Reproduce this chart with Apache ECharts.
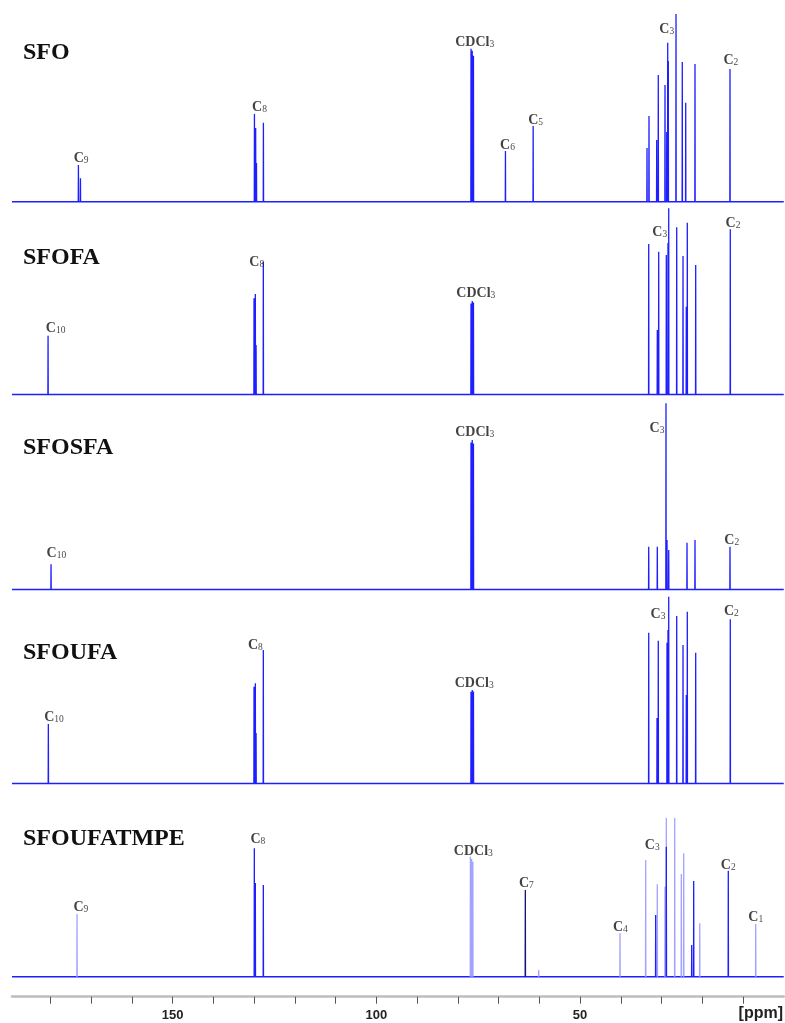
<!DOCTYPE html>
<html>
<head>
<meta charset="utf-8">
<script src="https://cdn.jsdelivr.net/npm/echarts@6/dist/echarts.min.js"></script>
<style>html,body{margin:0;padding:0;background:#fff}#main{width:785px;height:1023px}</style>
</head>
<body>
<div id="main"></div>
<script>
// ---- data (ppm, intensity a.u.) ----
const sampleNames = ['SFO', 'SFOFA', 'SFOSFA', 'SFOUFA', 'SFOUFATMPE'];
const ppmMin = 0, ppmMax = 189.4;
const majorTicks = [50, 100, 150];
const minorTicks = [10, 20, 30, 40, 50, 60, 70, 80, 90, 100, 110, 120, 130, 140, 150, 160, 170, 180];

const sfoPeaks = [[173.1,36.7],[172.6,23.4],[129.9,87.7],[129.6,73.7],[129.4,38.7],[127.7,79],
  [76.75,153],[76.45,151],[76.15,146],[68.3,50.7],[61.5,75.7],
  [33.56,53.7],[33.07,85.7],[31.18,61.7],[30.79,126.7],[29.14,116.7],[28.72,69.7],[28.48,159],[28.33,140.7],
  [26.44,187.7],[24.9,139.7],[24.06,99],[21.78,137.7],[13.19,132.7]];
const sfofaPeaks = [[180.55,58.8],[130.0,96.2],[129.68,100.5],[129.5,49.5],[127.72,132.8],
  [76.75,91],[76.45,93.5],[76.15,92],
  [33.14,150.5],[31.03,64.5],[30.69,142.8],[28.82,139.5],[28.41,151.5],[28.23,186.2],[26.27,167.2],
  [24.72,138.5],[23.92,87.8],[23.67,171.8],[21.61,129.5],[13.12,165.2]];
const sfosfaPeaks = [[179.82,25.2],[76.75,147],[76.45,149.5],[76.15,146],
  [33.14,42.8],[31.03,42.8],[28.9,186.2],[28.65,49.5],[28.23,39.5],[23.74,46.8],[21.78,49.5],[13.19,42.8]];
const sfoufaPeaks = [[180.48,59.5],[130.0,96.8],[129.68,100.2],[129.5,50.5],[127.72,133.5],
  [76.75,91.8],[76.45,93.5],[76.15,92],
  [33.14,150.8],[31.1,65.5],[30.79,142.8],[28.65,140.8],[28.41,153.5],[28.23,186.8],[26.27,167.5],
  [24.72,138.5],[23.92,88.5],[23.67,171.8],[21.61,130.8],[13.12,164.2]];
const tmpeLightPeaks = [[173.44,62.7],[76.9,120],[76.6,117.7],[76.3,115],[60.14,6.7],[40.18,43.4],
  [33.88,116.7],[31.03,92.4],[29.14,90],[28.82,158.7],[26.76,158.7],[25.14,102.7],[24.55,123.4],
  [20.62,53.4],[6.88,52.7]];
const tmpeBluePeaks = [[129.93,128.4],[129.68,93.7],[127.72,91.7],[31.43,61.7],[28.82,130],
  [22.59,31.7],[22.1,95.7],[13.61,106]];
const tmpeDarkPeaks = [[63.42,86.7]];

// labels: [main, subscript, ppm, intensity]
const sfoLabels = [['C','9',172.45,35.7],['C','8',128.65,86.7],['CDCl','3',75.84,151.4],['C','6',67.8,48.7],
  ['C','5',60.9,73.7],['C','3',28.72,164.4],['C','2',12.99,133.7]];
const sfofaLabels = [['C','10',178.7,58.8],['C','8',129.34,124.8],['CDCl','3',75.57,93.8],['C','3',30.44,154.2],['C','2',12.45,163.2]];
const sfosfaLabels = [['C','10',178.5,28.2],['CDCl','3',75.84,149.8],['C','3',31.1,153.2],['C','2',12.77,41.5]];
const sfoufaLabels = [['C','10',179.1,58.2],['C','8',129.68,130.5],['CDCl','3',75.96,92.2],['C','3',30.86,161.5],['C','2',12.87,164.8]];
const tmpeLabels = [['C','9',172.5,62],['C','8',129.07,129.4],['CDCl','3',76.18,118],['C','7',63.18,85.4],
  ['C','4',40.11,42],['C','3',32.28,123.7],['C','2',13.61,103.7],['C','1',6.86,51.4]];

// ---- layout ----
const baselines = [201.7, 394.5, 589.5, 783.5, 976.7];
const titleTops = [41.2, 245.5, 436.2, 641.2, 826.8];
const panelH = 190;
const BLUE = '#1e1eff', LIGHT = '#a3a3ff', DARK = '#14147a';

function peakLine(peaks) {
  const sorted = peaks.slice().sort((a, b) => b[0] - a[0]);
  const d = [];
  sorted.forEach(([p, h]) => { d.push([p + 0.04, 0], [p, h], [p - 0.04, 0], [p - 0.05, '-']); });
  return d;
}

const panels = [
  { peaks: [[sfoPeaks, BLUE]], labels: sfoLabels },
  { peaks: [[sfofaPeaks, BLUE]], labels: sfofaLabels },
  { peaks: [[sfosfaPeaks, BLUE]], labels: sfosfaLabels },
  { peaks: [[sfoufaPeaks, BLUE]], labels: sfoufaLabels },
  { peaks: [[tmpeLightPeaks, LIGHT], [tmpeBluePeaks, BLUE], [tmpeDarkPeaks, DARK]], labels: tmpeLabels }
];

const grid = [], xAxis = [], yAxis = [], series = [], title = [];
panels.forEach((pn, i) => {
  grid.push({ left: 12, right: 1.25, top: baselines[i] - panelH, height: panelH });
  xAxis.push({ gridIndex: i, type: 'value', min: ppmMin, max: ppmMax, inverse: true, show: false, splitLine: { show: false } });
  yAxis.push({ gridIndex: i, type: 'value', min: 0, max: panelH, show: false, splitLine: { show: false } });
  title.push({ text: sampleNames[i], left: 23, top: titleTops[i], padding: 0,
    textStyle: { fontFamily: 'Liberation Serif', fontWeight: 'bold', fontSize: 24, color: '#111' } });
  series.push({ type: 'line', xAxisIndex: i, yAxisIndex: i, data: [[ppmMax, 0], [ppmMin, 0]],
    symbol: 'none', lineStyle: { color: BLUE, width: 1.6 }, silent: true, clip: false, z: 2 });
  pn.peaks.forEach(([pk, col]) => {
    series.push({ type: 'line', xAxisIndex: i, yAxisIndex: i, data: peakLine(pk), connectNulls: false,
      symbol: 'none', lineStyle: { color: col, width: 1.3 }, silent: true, clip: false, z: col === LIGHT ? 2 : 3 });
  });
  series.push({ type: 'scatter', xAxisIndex: i, yAxisIndex: i, symbolSize: 1, itemStyle: { color: 'rgba(0,0,0,0)' },
    silent: true, z: 5,
    data: pn.labels.map(l => ({ value: [l[2], l[3]], m: l[0], s: l[1] })),
    label: { show: true, position: 'top', distance: 0,
      formatter: p => '{c|' + p.data.m + '}{s|' + p.data.s + '}',
      rich: {
        c: { fontFamily: 'Liberation Serif', fontWeight: 'bold', fontSize: 14, color: '#111', lineHeight: 16, verticalAlign: 'bottom' },
        s: { fontFamily: 'Liberation Serif', fontSize: 9.5, color: '#111', lineHeight: 7, verticalAlign: 'bottom' }
      } } });
});

// shared ppm axis below the stack
grid.push({ left: 12, right: 1.25, top: 986.7, height: 10 });
xAxis.push({
  gridIndex: 5, type: 'value', min: ppmMin, max: ppmMax, inverse: true, interval: 10, position: 'bottom',
  splitLine: { show: false },
  axisLine: { show: true, lineStyle: { color: '#bdbdbd', width: 2.5 } },
  axisTick: { show: true, customValues: minorTicks, length: 7, lineStyle: { color: '#555', width: 1 } },
  axisLabel: { show: true, customValues: majorTicks, margin: 12, color: '#222',
    fontFamily: 'Liberation Sans', fontWeight: 'bold', fontSize: 13 }
});
yAxis.push({ gridIndex: 5, type: 'value', min: 0, max: 1, show: false, splitLine: { show: false } });

const chart = echarts.init(document.getElementById('main'), null, { renderer: 'canvas' });
chart.setOption({
  animation: false, backgroundColor: '#fff', title, grid, xAxis, yAxis, series,
  graphic: [{ type: 'text', right: 2, top: 1006, style: { text: '[ppm]', fontFamily: 'Liberation Sans', fontWeight: 'bold', fontSize: 16, fill: '#222' } }]
});
</script>
</body>
</html>
